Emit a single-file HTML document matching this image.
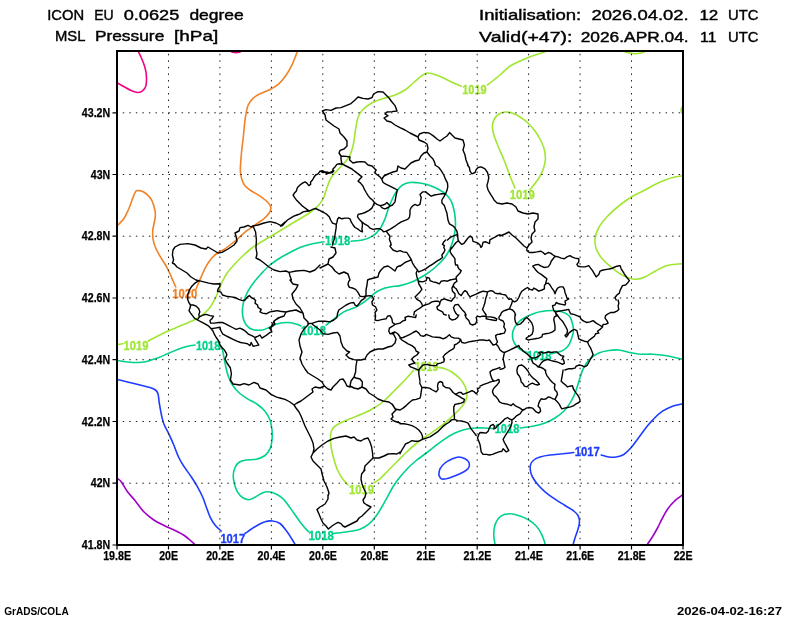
<!DOCTYPE html>
<html><head><meta charset="utf-8"><title>ICON EU MSL Pressure</title>
<style>html,body{margin:0;padding:0;background:#fff;}svg{display:block;will-change:transform;}text{font-family:"Liberation Sans",sans-serif;}</style></head><body>
<svg width="800" height="618" viewBox="0 0 800 618">
<rect x="0" y="0" width="800" height="618" fill="#fff"/>
<defs><clipPath id="mapclip"><rect x="117.0" y="51.0" width="566.0" height="494.0"/></clipPath></defs>
<g clip-path="url(#mapclip)" fill="none" stroke-width="1.6" stroke-linecap="round" stroke-linejoin="round">
<path d="M138 51C138.5 52.1 140.1 54.8 141.2 57.5C142.4 60.2 144.1 64.2 145 67.5C145.9 70.8 146.4 74.4 146.5 77.5C146.6 80.6 146.4 84 145.8 86.2C145.1 88.5 143.9 89.7 142.5 90.8C141.1 91.8 139.6 92.6 137.5 92.5C135.4 92.4 133.3 91.6 130 90C126.7 88.4 119.6 84.2 117.5 83" stroke="#f00082"/>
<path d="M230 51C230.5 51.2 232 52 233 52.3C234 52.6 235 52.6 236 52.6C237 52.6 238.1 52.5 239 52.2C239.9 51.9 241.1 51.2 241.5 51" stroke="#f00082"/>
<path d="M297.5 51C296.7 53.1 294.4 59.8 292.5 63.8C290.6 67.8 288.5 71.7 286.2 75C284 78.3 281.5 81.3 278.8 83.8C276 86.2 273.1 87.8 270 89.5C266.9 91.2 262.9 92.2 260 93.8C257.1 95.3 254.5 96.8 252.5 98.8C250.5 100.7 249.1 102.8 248 105.5C246.9 108.2 246.4 111.3 245.8 115C245.1 118.7 244.7 123.3 244.2 127.5C243.8 131.7 243.5 135.8 243 140C242.5 144.2 241.9 148.3 241.5 152.5C241.1 156.7 240.7 161.7 240.5 165C240.3 168.3 240.2 170 240.5 172.5C240.8 175 241.2 177.8 242 180C242.8 182.2 243.7 184.1 245 185.8C246.3 187.4 247.5 188.2 250 190C252.5 191.8 257.1 194.2 260 196.2C262.9 198.2 265.7 200.2 267.5 202C269.3 203.8 270.4 205.2 270.8 207C271.1 208.8 270.7 210.5 269.5 212.5C268.3 214.5 266.2 216.7 263.8 218.8C261.3 220.8 257.9 222.9 255 225C252.1 227.1 249.4 228.8 246.2 231.2C243.1 233.8 239.8 237.1 236.2 240C232.7 242.9 228.1 246.6 225 248.8C221.9 250.9 219.8 251.3 217.5 253C215.2 254.7 213.1 256.5 211.2 258.8C209.4 261 207.8 263.5 206.2 266.2C204.7 269 203.2 272.3 202 275C200.8 277.7 199.7 280.2 198.8 282.5C197.8 284.8 196.7 287.7 196.2 288.8" stroke="#f08228"/>
<path d="M117.5 225.5C118.5 224.4 121.9 221.5 123.8 218.8C125.6 216 127.3 212.1 128.8 208.8C130.2 205.4 131.6 201.2 132.5 198.8C133.4 196.3 133.8 195.3 134.4 194C135 192.7 135.4 191.6 136 191C136.6 190.4 137.3 190.7 138 190.6C138.7 190.5 139 190.4 140 190.7C141 191 142.6 191.3 144.1 192.2C145.6 193.1 147.4 194.8 148.8 196.2C150.1 197.7 151 198.5 152 200.8C153 203.1 154.3 207.5 154.9 210C155.5 212.5 155.4 214 155.3 216C155.2 218 154.8 219.7 154.4 222C154 224.3 153 227.2 152.8 230C152.6 232.8 152.6 235.8 153 238.8C153.4 241.7 154.3 244.6 155.5 247.5C156.7 250.4 158.3 253.3 160 256.2C161.7 259.2 163.8 262.1 165.5 265C167.2 267.9 168.7 271 170 273.8C171.3 276.5 172.3 279 173.2 281.2C174.2 283.5 175.3 286 175.8 287" stroke="#f08228"/>
<path d="M117.5 344.5 L123 343.8" stroke="#a0e632"/>
<path d="M148.8 341.2C149 341 146.9 341.7 150 340C153.1 338.3 162.1 333.8 167.5 331.2C172.9 328.8 177.9 327 182.5 325C187.1 323 191.5 321.4 195 319.5C198.5 317.6 201.2 315.8 203.8 313.8C206.2 311.8 208.1 310 210 307.5C211.9 305 213.5 301.7 215 298.8C216.5 295.8 217.5 292.9 218.8 290C220 287.1 221 284.2 222.5 281.2C224 278.3 225.4 275.4 227.5 272.5C229.6 269.6 232.3 266.7 235 263.8C237.7 260.8 240.8 257.7 243.8 255C246.7 252.3 249.4 249.8 252.5 247.5C255.6 245.2 258.8 243.5 262.5 241.2C266.2 239 270.8 236.2 275 233.8C279.2 231.2 283.3 228.8 287.5 226.2C291.7 223.8 296.2 221 300 218.8C303.8 216.5 306.9 214.8 310 212.5C313.1 210.2 316.5 207.5 318.8 205C321 202.5 322.5 200 323.8 197.5C325 195 325 193.3 326.2 190C327.5 186.7 329 181.2 331.2 177.5C333.5 173.8 337.1 170.8 340 167.5C342.9 164.2 346.5 161.2 348.8 157.5C351 153.8 352.1 149.6 353.2 145C354.4 140.4 354.7 134.6 355.5 130C356.3 125.4 356.8 120.8 358 117.5C359.2 114.2 360.3 112.4 362.5 110C364.7 107.6 367.9 105.1 371.2 103.2C374.6 101.4 378.5 100.1 382.5 98.8C386.5 97.4 391.2 96.5 395 95C398.8 93.5 401.9 92.1 405 90C408.1 87.9 411 84.8 413.8 82.5C416.5 80.2 419.2 77.8 421.2 76.2C423.3 74.7 424.4 73.7 426.2 73.2C428.1 72.8 429.8 73 432.5 73.8C435.2 74.5 439.2 76 442.5 77.5C445.8 79 449.4 81 452.5 82.5C455.6 84 459.8 85.6 461.2 86.2" stroke="#a0e632"/>
<path d="M487.5 85C488.5 84.2 491.7 81.7 493.8 80C495.8 78.3 497.3 77.3 500 75C502.7 72.7 506.2 68.8 510 66.2C513.8 63.8 518.3 61.9 522.5 60C526.7 58.1 531 56.4 535 55C539 53.6 544.4 52.1 546.2 51.5" stroke="#a0e632"/>
<path d="M623.8 51.5C624.6 51.8 627.1 52.6 629 53C630.9 53.4 633 53.8 635 53.8C637 53.8 639.3 53.4 641 53C642.7 52.6 644.3 51.8 645 51.5" stroke="#a0e632"/>
<path d="M682 107C681.8 107.5 681 109 681 110C681 111 681.8 112.5 682 113" stroke="#a0e632"/>
<path d="M515 188C514.2 186 511.8 180.7 510 176C508.2 171.3 506 165 504 160C502 155 499.7 150.3 498 146C496.3 141.7 494.5 137.3 493.6 134C492.7 130.7 492.3 128.5 492.4 126C492.5 123.5 493.3 121 494.4 119C495.5 117 497.2 115.2 499 114C500.8 112.8 502.8 112.2 505 112C507.2 111.8 509.5 112.2 512 113C514.5 113.8 517.3 115.3 520 117C522.7 118.7 525.5 120.7 528 123C530.5 125.3 532.8 128 535 131C537.2 134 539.4 137.8 541 141C542.6 144.2 543.7 147 544.4 150C545.1 153 545.5 156 545.4 159C545.3 162 544.7 164.8 543.6 168C542.5 171.2 540.8 175 539 178C537.2 181 534.5 184.1 533 186C531.5 187.9 530.5 189 530 189.6" stroke="#a0e632"/>
<path d="M682.5 175.8C681.2 176 677.9 176.3 675 177C672.1 177.7 668.3 178.8 665 180C661.7 181.2 658.3 182.8 655 184.5C651.7 186.2 648.8 188 645 190C641.2 192 636.7 193.8 632.5 196.2C628.3 198.8 624.2 201.7 620 205C615.8 208.3 611 212.5 607.5 216.2C604 220 600.8 223.8 598.8 227.5C596.7 231.2 595.4 235.2 595 238.8C594.6 242.3 595.2 245.6 596.2 248.8C597.3 251.9 599 254.6 601.2 257.5C603.5 260.4 606.9 263.5 610 266.2C613.1 269 616.9 271.8 620 273.8C623.1 275.7 626 277.1 628.8 278C631.5 278.9 633.5 279.4 636.2 279.2C639 279.1 641.9 278.3 645 277C648.1 275.7 651.7 273 655 271.2C658.3 269.5 661.7 267.4 665 266.2C668.3 265.1 672.1 264.7 675 264.2C677.9 263.8 681.2 263.8 682.5 263.8" stroke="#a0e632"/>
<path d="M413.8 370C412.3 371.7 408.1 376.7 405 380C401.9 383.3 398.3 386.7 395 390C391.7 393.3 388.3 397.1 385 400C381.7 402.9 378.8 405.2 375 407.5C371.2 409.8 366.7 411.9 362.5 413.8C358.3 415.6 354 417.1 350 418.8C346 420.4 341.7 422.1 338.8 423.8C335.8 425.4 333.9 426.7 332.5 428.8C331.1 430.8 330.7 433.1 330.5 436.2C330.3 439.4 330.7 443.8 331.2 447.5C331.8 451.2 332.7 455 333.8 458.8C334.8 462.5 336 466.7 337.5 470C339 473.3 340.8 476.2 342.5 478.8C344.2 481.2 347.1 484 348 485" stroke="#a0e632"/>
<path d="M373.8 483C374.8 482.3 377.7 480.7 380 478.8C382.3 476.8 384.8 474 387.5 471.2C390.2 468.5 393.1 465.6 396.2 462.5C399.4 459.4 402.7 455.8 406.2 452.5C409.8 449.2 413.5 445.6 417.5 442.5C421.5 439.4 425.8 436.7 430 433.8C434.2 430.8 438.8 427.9 442.5 425C446.2 422.1 449.6 419 452.5 416.2C455.4 413.5 457.8 411.2 460 408.8C462.2 406.2 464.3 403.8 465.5 401.2C466.7 398.8 467.1 396.2 467 393.8C466.9 391.2 466.2 388.8 465 386.2C463.8 383.8 462.1 381 460 378.8C457.9 376.5 455 374.2 452.5 372.5C450 370.8 447.3 369.6 445 368.8C442.7 367.9 439.8 367.7 438.8 367.5" stroke="#a0e632"/>
<path d="M117.5 360.5C119.2 360.8 124.2 361.7 127.5 362C130.8 362.3 134.2 362.6 137.5 362.5C140.8 362.4 144.2 362 147.5 361.2C150.8 360.5 154.2 359.2 157.5 358C160.8 356.8 164.2 355.2 167.5 353.8C170.8 352.3 174.2 350.8 177.5 349.5C180.8 348.2 184.6 347 187.5 346.2C190.4 345.5 193.8 345.2 195 345" stroke="#00d28c"/>
<path d="M220 345C220.4 345.8 221.8 347.7 222.5 350C223.2 352.3 223.6 355.6 224.2 358.8C224.9 361.9 225.5 365.6 226.2 368.8C227 371.9 227.7 374.8 228.8 377.5C229.8 380.2 230.8 382.5 232.5 385C234.2 387.5 236.2 390.2 238.8 392.5C241.2 394.8 244.4 396.8 247.5 398.8C250.6 400.8 254.6 402.4 257.5 404.5C260.4 406.6 262.9 408.7 265 411.2C267.1 413.8 268.8 416.9 270 420C271.2 423.1 271.7 426.7 272 430C272.3 433.3 272.3 436.9 272 440C271.7 443.1 271.2 446.2 270 448.8C268.8 451.3 267.3 453.8 265 455.5C262.7 457.2 259.4 458.5 256.2 459.2C253.1 460 249.2 459.5 246.2 460C243.3 460.5 240.6 461.2 238.8 462.5C236.9 463.8 235.9 465.3 235 467.5C234.1 469.7 233.3 472.7 233.2 475.5C233.2 478.3 233.8 481.5 234.5 484.2C235.2 487 236.2 489.5 237.5 491.8C238.8 494 240.6 496.2 242.5 497.5C244.4 498.8 246.7 499.8 248.8 499.8C250.8 499.7 252.9 498.3 255 497.2C257.1 496.2 259.4 494.4 261.2 493.5C263.1 492.6 264.4 491.9 266.2 491.8C268.1 491.6 270 491.6 272.5 492.5C275 493.4 278.8 495.3 281.2 497.2C283.8 499.2 285.4 501.6 287.5 504.2C289.6 506.9 291.7 510.1 293.8 513C295.8 515.9 298.1 519.2 300 521.8C301.9 524.2 303.5 526.3 305 528C306.5 529.7 308.1 531.1 308.8 531.8" stroke="#00d28c"/>
<path d="M333.8 533.5C336 533.2 343.1 532.5 347.5 531.8C351.9 531 356.5 530.5 360 529.2C363.5 528 366.2 526.2 368.8 524.2C371.2 522.3 372.9 520.2 375 517.5C377.1 514.8 379.2 511.5 381.2 508C383.3 504.5 385.4 500.5 387.5 496.8C389.6 493 391.7 488.8 393.8 485.5C395.8 482.2 397.7 479.8 400 477C402.3 474.2 404.8 471.2 407.5 468.5C410.2 465.8 413.3 462.9 416.2 460.5C419.2 458.1 421.9 456.4 425 454C428.1 451.6 431.7 448.8 435 446.2C438.3 443.7 441.7 441 445 438.8C448.3 436.5 451.7 434.5 455 433C458.3 431.5 461.7 430.3 465 429.5C468.3 428.7 471.7 428.2 475 428C478.3 427.8 481.9 427.9 485 428C488.1 428.1 492.3 428.6 493.8 428.8" stroke="#00d28c"/>
<path d="M520 428C522.1 427.7 528.3 427.1 532.5 426.2C536.7 425.4 541.2 424.4 545 423C548.8 421.6 551.9 420 555 418C558.1 416 561 414 563.8 411.2C566.5 408.5 569.2 404.8 571.2 401.2C573.3 397.7 574.8 394 576.2 390C577.7 386 578.8 381.2 580 377.5C581.2 373.8 582.1 370.6 583.8 367.5C585.4 364.4 587.5 361.2 590 358.8C592.5 356.3 595.6 354.4 598.8 353C601.9 351.6 605.4 351 608.8 350.5C612.1 350 615.2 349.7 618.8 350C622.3 350.3 626.5 351.8 630 352.5C633.5 353.2 636.2 354 640 354.2C643.8 354.5 648.3 354 652.5 354.2C656.7 354.5 661.2 355 665 355.5C668.8 356 672.1 356.9 675 357.5C677.9 358.1 681.2 359 682.5 359.2" stroke="#00d28c"/>
<path d="M301 326C300.2 325.7 298.2 324.6 296 324C293.8 323.4 290.6 322.5 287.5 322.5C284.4 322.5 280.4 323 277.5 323.8C274.6 324.5 272.5 326 270 327C267.5 328 265.4 329.6 262.5 330C259.6 330.4 255.2 330.3 252.5 329.5C249.8 328.7 247.8 327 246.2 325C244.7 323 243.6 320.2 243 317.5C242.4 314.8 242.3 311.7 242.5 308.8C242.7 305.8 243.3 302.9 244.2 300C245.2 297.1 246.4 294.2 248 291.2C249.6 288.3 251.5 285.4 253.8 282.5C256 279.6 258.5 276.7 261.2 273.8C264 270.8 266.9 267.6 270 265C273.1 262.4 276.7 260.1 280 258C283.3 255.9 286.7 254.2 290 252.5C293.3 250.8 296.2 249 300 247.5C303.8 246 308.5 244.7 312.5 243.8C316.5 242.8 321.9 242.1 323.8 241.8" stroke="#00d28c"/>
<path d="M351.2 241.2C353.1 241 359 240.8 362.5 240C366 239.2 369.6 238.1 372.5 236.2C375.4 234.4 377.9 231.7 380 228.8C382.1 225.8 383.5 222.3 385 218.8C386.5 215.2 387.4 211 388.8 207.5C390.1 204 391.5 200.4 393 197.5C394.5 194.6 395.9 192.1 397.5 190C399.1 187.9 400.4 186.2 402.5 185C404.6 183.8 407.1 182.8 410 182.5C412.9 182.2 416.7 182.5 420 183C423.3 183.5 426.9 184.4 430 185.5C433.1 186.6 436 188 438.8 189.5C441.5 191 444.2 192.5 446.2 194.5C448.3 196.5 449.9 198.2 451.2 201.2C452.6 204.2 453.8 208.5 454.5 212.5C455.2 216.5 455.6 220.8 455.5 225C455.4 229.2 454.7 233.5 453.8 237.5C452.8 241.5 451.7 245.2 450 248.8C448.3 252.3 446.2 255.6 443.8 258.8C441.2 261.9 438.1 264.8 435 267.5C431.9 270.2 428.8 272.6 425 275C421.2 277.4 416.7 280 412.5 281.8C408.3 283.5 403.3 284.8 400 285.6C396.7 286.4 395 286.1 392.5 286.5C390 286.9 387.5 287.2 385 288C382.5 288.8 379.7 290 377.5 291.2C375.3 292.5 373.6 294.2 371.9 295.6C370.2 297 369.1 298.2 367.5 299.4C365.9 300.6 364.4 301.8 362.5 303C360.6 304.2 358.3 305.8 356.2 306.9C354.2 308 352.1 308.6 350 309.4C347.9 310.2 345.8 310.8 343.8 311.9C341.7 313 339.6 314.7 337.5 316.2C335.4 317.8 333.1 319.8 331.2 321.2C329.4 322.7 327.1 324.4 326.2 325" stroke="#00d28c"/>
<path d="M526.9 352.5C526.4 352.3 525 351.9 523.8 351.2C522.5 350.6 520.8 349.8 519.4 348.8C518 347.7 516.6 346.5 515.6 345C514.6 343.5 513.6 341.9 513.1 340C512.6 338.1 512.3 335.8 512.5 333.8C512.7 331.7 513.4 329.5 514.4 327.5C515.4 325.5 517 323.6 518.8 321.9C520.5 320.2 522.6 318.8 525 317.5C527.4 316.2 530.5 315 533 314C535.5 313 536.8 312.3 540 311.8C543.2 311.2 548.8 310.5 552.5 310.5C556.2 310.5 559.7 311 562.5 312C565.3 313 567.8 314.3 569.5 316.2C571.2 318.2 571.9 321.3 572.5 323.8C573.1 326.2 573.5 328.7 573.4 331C573.3 333.3 572.6 335.4 571.9 337.5C571.2 339.6 570.3 342 569.4 343.8C568.5 345.5 567.6 346.8 566.2 348C564.9 349.2 562.9 350.5 561.2 351.2C559.6 352 557.8 352.1 556.2 352.5C554.7 352.9 552.6 353.5 551.9 353.8" stroke="#00d28c"/>
<path d="M495 544.2C494.8 542.8 493.8 538.4 493.8 535.5C493.7 532.6 494 529.2 494.5 526.8C495 524.2 496.1 522.2 497 520.5C497.9 518.8 498.7 517.8 500 516.8C501.3 515.7 503.1 514.8 505 514.2C506.9 513.8 508.8 513.5 511.2 513.8C513.8 514 517.1 515 520 516C522.9 517 526 518.3 528.8 520C531.5 521.7 534.2 523.8 536.2 526C538.3 528.2 539.9 530.9 541.2 533.5C542.6 536.1 543.9 540 544.5 541.8C545.1 543.5 544.9 543.8 545 544.2" stroke="#00d28c"/>
<path d="M117.5 379.5C119.2 379.9 123.8 381.1 127.5 382C131.2 382.9 136.2 384.1 140 385C143.8 385.9 147.4 386.7 150 387.5C152.6 388.3 154.2 389 155.5 390C156.8 391 157.4 391.7 158 393.8C158.6 395.8 158.7 399.2 159.2 402.5C159.8 405.8 160.5 410.2 161.2 413.8C162 417.3 162.5 420.4 163.8 423.8C165 427.1 167.1 430.2 168.8 433.8C170.4 437.3 172.1 441 173.8 445C175.4 449 177.1 454 178.8 457.5C180.4 461 181.7 463 183.8 466.2C185.8 469.5 189 473.3 191.2 476.8C193.5 480.2 195.6 483.4 197.5 486.8C199.4 490.1 201 493.4 202.5 496.8C204 500.1 205 503.4 206.2 506.8C207.5 510.1 208.5 513.7 210 516.8C211.5 519.8 213.1 522.6 215 525C216.9 527.4 220.2 530 221.2 531" stroke="#1e3cff"/>
<path d="M245 533.5C246.7 532.4 251.7 528.7 255 526.8C258.3 524.8 262.1 522.7 265 521.8C267.9 520.8 270 520.7 272.5 521C275 521.3 277.7 521.9 280 523.5C282.3 525.1 284.4 528.1 286.2 530.5C288.1 532.9 289.8 535.7 291.2 538C292.7 540.3 294.4 543.2 295 544.2" stroke="#1e3cff"/>
<path d="M438.8 475C439 474 439 470.8 440 468.8C441 466.8 442.9 464.7 445 463C447.1 461.3 450.2 459.8 452.5 458.8C454.8 457.8 456.7 457 458.8 457C460.8 457 463.2 457.8 465 458.8C466.8 459.8 468.8 461.3 469.2 463C469.8 464.7 469.1 467.2 468 468.8C466.9 470.3 464.9 471.2 462.5 472.5C460.1 473.8 456.5 475.2 453.8 476.2C451 477.3 448.3 478.3 446.2 478.8C444.2 479.2 442.5 479.4 441.2 478.8C440 478.1 439.2 475.6 438.8 475" stroke="#1e3cff"/>
<path d="M682.5 403.8C680.8 404.2 675.8 405 672.5 406.2C669.2 407.5 665.6 409.2 662.5 411.2C659.4 413.3 656.5 416 653.8 418.8C651 421.5 648.8 424.4 646.2 427.5C643.8 430.6 641.2 434.2 638.8 437.5C636.2 440.8 633.8 444.7 631.2 447.5C628.8 450.3 626.2 452.9 623.8 454.5C621.2 456.1 618.8 456.6 616.2 457C613.8 457.4 611.2 457.3 608.8 457C606.2 456.7 602.5 455.3 601.2 455" stroke="#1e3cff"/>
<path d="M573.8 452.5C571.9 452.7 566.5 453.3 562.5 453.8C558.5 454.2 553.8 454.5 550 455C546.2 455.5 542.7 456.2 540 457C537.3 457.8 535.3 458.7 533.8 460C532.2 461.3 531 463.1 530.5 465C530 466.9 530.2 469.2 530.5 471.2C530.8 473.2 531.3 474.8 532.5 477C533.7 479.2 535.4 481.8 537.5 484.2C539.6 486.7 542.1 489.2 545 491.8C547.9 494.2 551.7 497 555 499.2C558.3 501.5 561.9 503.5 565 505.5C568.1 507.5 571.6 509.3 573.8 511C575.9 512.7 577 513.7 578 515.5C579 517.3 579.5 519.5 579.5 521.8C579.5 524 578.8 526.5 578 529.2C577.2 532 575.8 535.5 575 538C574.2 540.5 573.5 543.2 573.2 544.2" stroke="#1e3cff"/>
<path d="M117.5 478.5C118.1 479 119.6 479.5 121.2 481.8C122.9 484 125.2 488.6 127.5 491.8C129.8 494.9 132.3 497.2 135 500.5C137.7 503.8 140.6 508.5 143.8 511.8C146.9 515 150.2 517.6 153.8 520C157.3 522.4 161.5 524.2 165 526C168.5 527.8 171.7 528.8 175 530.5C178.3 532.2 182.3 534.2 185 536C187.7 537.8 189.7 539.9 191.2 541.2C192.8 542.6 194 543.8 194.5 544.2" stroke="#a000c8"/>
<path d="M647.5 544.2C648.3 543 650.8 539.5 652.5 536.8C654.2 534 655.8 531.1 657.5 528C659.2 524.9 660.8 521.1 662.5 518C664.2 514.9 665.6 512 667.5 509.2C669.4 506.5 671.2 504.1 673.8 501.8C676.2 499.4 681 496.1 682.5 495" stroke="#a000c8"/>
</g>
<g font-weight="bold" font-size="12.6px" stroke-width="0.3">
<text x="172.2" y="298.1" fill="#f08228" stroke="#f08228" textLength="25.1" lengthAdjust="spacingAndGlyphs">1020</text>
<text x="123.5" y="349.6" fill="#a0e632" stroke="#a0e632" textLength="24.9" lengthAdjust="spacingAndGlyphs">1019</text>
<text x="195.9" y="349.6" fill="#00d28c" stroke="#00d28c" textLength="24.4" lengthAdjust="spacingAndGlyphs">1018</text>
<text x="220.4" y="543.2" fill="#1e3cff" stroke="#1e3cff" textLength="24.9" lengthAdjust="spacingAndGlyphs">1017</text>
<text x="462.2" y="94" fill="#a0e632" stroke="#a0e632" textLength="24.4" lengthAdjust="spacingAndGlyphs">1019</text>
<text x="509.7" y="199.2" fill="#a0e632" stroke="#a0e632" textLength="25" lengthAdjust="spacingAndGlyphs">1019</text>
<text x="325" y="245.4" fill="#00d28c" stroke="#00d28c" textLength="25.3" lengthAdjust="spacingAndGlyphs">1018</text>
<text x="300.9" y="335" fill="#00d28c" stroke="#00d28c" textLength="25.1" lengthAdjust="spacingAndGlyphs">1018</text>
<text x="414.7" y="370.9" fill="#a0e632" stroke="#a0e632" textLength="23.6" lengthAdjust="spacingAndGlyphs">1019</text>
<text x="349" y="494.1" fill="#a0e632" stroke="#a0e632" textLength="25" lengthAdjust="spacingAndGlyphs">1019</text>
<text x="308.4" y="539.6" fill="#00d28c" stroke="#00d28c" textLength="25.6" lengthAdjust="spacingAndGlyphs">1018</text>
<text x="494.7" y="433.1" fill="#00d28c" stroke="#00d28c" textLength="24.6" lengthAdjust="spacingAndGlyphs">1018</text>
<text x="526.7" y="360.1" fill="#00d28c" stroke="#00d28c" textLength="24.9" lengthAdjust="spacingAndGlyphs">1018</text>
<text x="574.7" y="456.1" fill="#1e3cff" stroke="#1e3cff" textLength="25.1" lengthAdjust="spacingAndGlyphs">1017</text>
</g>
<g stroke="#222" stroke-width="1" stroke-dasharray="1.5 5.04" fill="none">
<path d="M168.5 545.8 V51"/>
<path d="M219.9 545.8 V51"/>
<path d="M271.4 545.8 V51"/>
<path d="M322.8 545.8 V51"/>
<path d="M374.3 545.8 V51"/>
<path d="M425.7 545.8 V51"/>
<path d="M477.2 545.8 V51"/>
<path d="M528.6 545.8 V51"/>
<path d="M580.1 545.8 V51"/>
<path d="M631.5 545.8 V51"/>
<path d="M116.2 483.2 H683"/>
<path d="M116.2 421.5 H683"/>
<path d="M116.2 359.7 H683"/>
<path d="M116.2 298 H683"/>
<path d="M116.2 236.2 H683"/>
<path d="M116.2 174.5 H683"/>
<path d="M116.2 112.8 H683"/>
</g>
<g clip-path="url(#mapclip)" fill="none" stroke="#000" stroke-width="1.4" stroke-linecap="round" stroke-linejoin="round">
<path d="M199 281L196 280L191 277L187 273L182 270L177 267L174.4 264L172.4 263L173.6 260L172.4 255L173 250L175 247L180 244.4L188 243.6L195 245L201 248L206 249L208 247L213 250L218 253L222 252.4L228 249L234 245L237 241L236 236L235 233L239 231L240 227.6L244 227L248 225.4L251 227L253 226L258 225L264 223L270 221.6L276 223L281 225.6L285 222M253 226L255.6 232L256.4 240L256 248L257 254L256 258L260 260L264 263L269 267L274 270L280 271.6L286 271L289 272.4L296 271L304 270.4L310 272L315 270L320 265M289 272.4L290 276L291.4 280M198.8 280.6L195 283.1L191.9 286.2L189.4 290L187.8 294.4L187.5 298.8L188.8 302.5L190.6 305L190 308.1L189 310.6L190.6 313.1L192.5 315.6L194.4 318.1L197.5 320L201.2 321.9L205 323.8L208.8 326.2L211.2 328.8L213.1 331.2L214.4 334.4L216.2 337.5L218.8 341.2L220 345L221.9 347.5L224.4 350L226.2 353.1L226.9 355M190.6 305L193.1 305L196.2 306.2L198.8 308.8L199.8 311.9L198.8 314.4L199.4 316.9L197.5 320M199.4 316.9L203.1 315L206.2 314.4L210 315.6L213.5 316.2L211.9 318.8L210 320.6L210.6 323.1L214.4 323.1L218.8 322.5L222.5 322.5L225.6 323.8L228.8 325.6L232.5 327.5L236.2 329.4L240 328.1L243.8 330L246.2 331.9L248.8 334.4L251.9 335.6L255 337.5L258.1 336.2L260 335L261.9 338.1L265 336.2L267.5 334.4L270 332.5L271.9 331.9L270.6 329.4L269.4 328.1L272.5 326.2L275 323.8L273.8 321.9L275.6 319.8L280 317.5M211.2 328.8L215 328.1L220 327.2L220.6 330L222.5 333.8L225.6 335.6L229.4 337.5L233.1 339.4L236.9 341.2L240.6 342.5L244.4 343.1L247.5 343.8L250 345.6L251.2 342.5L253.1 346.2L256.2 345.6L258.8 345L256.9 341.9L255 338.8L255 337.5M198.8 280.6L203.8 281.9L208.8 283.1L213.8 284L220 283.8L220 286.2L218.1 288.8L217.5 291.2L220.6 291.9L222.5 295L226.2 296.2L231.2 296.9L235 297.5L238.8 299.4L242.5 300.6L245 300L247.5 296.9L249.4 295.6L251.2 297.5L253.8 298.8L255.6 300.6L255 303.1L257.5 305L258.1 307.5L261.2 309.4L260 311.9L262.5 313.1L266.2 313.8L270 311.9L273.8 311.2L277.5 310.6L280 311.2M226.8 355L225 359L227 363L230.4 368L231.4 374L230.4 380L233 384L240 385L244 383.6L249 385L254 382.4L258 384L260 388L266 390L271 394.4L276 396.8L280 398.2M290 280L293 284L298 285L296 289L292 294L293 299L296 304L300 308L303 313L304 318L308 322L308 325M280 311.2L286 312L290 311L296 310L300 312L303 313M286 312L284 316L278 318L274 321L272 325L271 328M322.4 111L326 109.6L331 110.4L336 108L341 107.6L346 105.6L351 103.6L355 100L358 97L363 98.4L368 99L372 97.6L373.6 94L378 91.6L383 92L386 95L389 98L392 102L395 105.6L397 111L392 111.6L387 112L385 114L388 115.6L384 118L387 121L391 122L395 125L400 127.6L405 130L410 133L414 135L418 137L419.4 134L424 132.4L429 133L433 135.6L437 139L440 141L444 138L447 136L449.6 132.6L452 135L455 138L459 139L463 140L464.4 145L463 150L465 155L466 160L468 165M322.4 111L325 115L326 120L330 123L334 126L339 129L340 133L344 137L347 141L347 146L344 149L340 150.4L339 153L341 156L346 156.4L350 157L349.6 160L353 163L357 162L361 161.6L365 162L368 165L372 166L375 169L376 170.4M341 156L341 159L341.6 163M341.6 163L344 165L348 167L352 169L353 170M418 137L419 140L424 142L427 144L428 148L427 152M427 152L424 153L421 156L419 160L415 161L411 163L408 166L405 169L401 168L398 166L397 171L393 172L388 174L384 176L382 179M427 152L430 156L433 159L434.6 162.4L435.4 165.2M494 200L497 203L502 204L507 203L512 204L516 207L518 211L523 213L528 214L533 213L538 214L538 219L535 222L534 227L535 231L532 234L531 238L532 242L529 245L527 248L526.8 250M500 236L505 234L509 232L512 235L516 238L520 242L524 246L527 248M526.9 250.6L529.4 252.5L533.1 252.5L536.9 251.9L540.6 251.2L543.1 252.5L545 254.4L548.1 252.5L550.6 253.1L553.1 255L555 256.2L558.1 256.9L561.2 258.1L564.4 258.8L566.9 256.9L570 255.6L571.9 256.9L575 258.1L578.8 258.8M555 256.2L553.1 258.8L551.2 261.2L550 264.4L548.1 266.9L544.4 267.5L541.2 266.2L538.1 264.4L535 265L532.8 266.2L534.4 268.1L536.2 270.6L538.1 272.5L541.2 274.4L544.4 276.9L546.9 278.8L546.2 281.2L545.6 283.8M545.6 283.8L544.4 285.6L544.4 288.8L541.9 290L538.8 291.2L536.2 289.4L533.8 288.1L532.5 290L530 289.4L527.5 287.5L524.4 289.4L521.9 291.2L520 294.4L518.8 297.5L516.9 300.6L514.4 301.9L512.5 300.6L511.2 298.8L508.8 299.4L506.9 296.9L505.6 295L502.5 294.4L500 293.8M512.5 300.6L511.9 303.1L510.6 306.2L509.4 308.8M509.4 308.8L506.2 310L503.1 311.2L501.2 313.1L500.6 315M509.4 308.8L512.5 310L514.4 311.9L515.6 315M545.6 283.8L548.1 283.1L550 285L551.9 288.1L553.8 290.6L555 293.8L556.2 290.6L557.5 288.1L560 286.9L563.1 286.9L564.4 289.4L565 292.5L566.2 295.6L566.9 298.1L568.8 298.8L566.9 300L565 301.2L565.6 303.8L565 305L561.9 304.4L558.8 303.8L556.2 302.5L555 305L552.5 305.6L553.1 308.1L553.8 310.6L555.6 312.5L556.2 315M578.8 258.8L578.8 261.9L576.9 264.4L578.1 266.2L581.2 266.9L585 266.9L588.8 265.6L590.6 268.1L592.5 270.6L594.4 273.8L596.2 276.9L598.8 274.4L600 271.2L603.1 270L606.9 269.4L610.6 268.8L613.8 267.5L616.9 266.2L620 265.6L621.2 268.8L623.1 271.9L625 275L626.9 277.5L629.4 280.6L627.5 283.1L625.6 285L622.5 285.6L621.2 288.1L620 290.6L619.4 293.1L616.9 295L615 297.5L616.2 300M400 250.6L403.1 251.9L406.9 252.5L408.8 255.6L411.2 259.4L412.5 263.1L414.4 266.2L416.9 269.4L418.8 271.9M411.2 260L408.1 261.2L405 262.5L402.5 264.4L400 266.2M418.8 271.9L421.9 270.6L425.6 268.8L429.4 266.2L433.1 263.8L436.9 261.2L440 259.4L442.5 257.5L441.9 255L443.8 252.5L445 250L443.8 247.5L444.4 245.6L442.5 244.4L443.8 241.9L445.6 240M417.5 270L416.2 273.1L416.9 276.9L418.1 280.6L418.8 283.8L420.6 286.9L421.9 289.4L420 291.9L417.5 294.4L415 296.9L416.9 299.4L420 301.2L421.9 303.8L422.5 306.2L420 308.1L416.9 310L414.4 311.9L413.8 315M418.8 281.2L422.5 281.9L426.2 280.6L426.9 277.5L429.4 278.1L430 280.6L433.1 281.9L436.2 282.5L439.4 283.8L441.2 281.2L444.4 280.6L447.5 281.2L450 280L453.1 279.4L456.2 278.8M451.2 247.5L450 251.2L451.2 253.8L453.1 256.2L455 258.8L455 261.9L455.6 265L457.5 265L458.1 267.5L459.4 269.4L461.2 270.6L460 273.1L458.1 275L456.2 276.9L456.2 278.8L456.9 281.2L454.4 283.1L453.1 285.6L454.4 287.5L456.2 288.8L457.5 291.2L458.8 293.8L461.2 295.6L463.1 292.5L465 290.6L466.9 291.9L468.1 294.4L470 296.9L472.5 295.6L475.6 294.4L479.4 292.5L483.1 291.2L487.5 291.9L490.6 290.6L493.1 291.2L495 293.1L498.1 293.8L500 293.1M453.1 285.6L451.9 288.1L452.5 291.2L455 293.8L455 296.9L453.1 298.8L451.2 301.2L447.5 300L444.4 298.8L441.2 300L440 302.5L438.1 301.2L435 301.2L431.9 301.9L428.8 303.8L425 305L422.5 306.2M440 302.5L439.4 305L436.9 306.9L437.5 309.4L440 310.6L442.5 311.9L443.8 314.4L446.2 315M487.5 291.9L486.9 295L485.6 298.8L485 302.5L483.8 306.2L482.5 309.4L484.4 312.5L486.2 315M455 305L458.1 304.4L460 306.9L461.9 309.4L464.4 311.9L466.2 315M455 305L453.5 307.5L454.4 310.6L456.2 313.8L457.5 315M400 323.1L402.5 321.2L405.6 320L405 317.5L408.1 316.2L411.9 316.9L415.6 317.5L416.2 315M400 338.1L403.1 337.5L406.2 336.2L410 334.4L413.1 332.5L416.2 331L418.8 333.1L420.6 335.6L423.8 336.2L426.2 334.4L429.4 335.6L432.5 336.9L436.2 337.2L440 337.5L443.1 338.8L446.2 337.5L449.4 334.8L451.2 336.9L454.4 338.1L458.1 338.1L460.6 339.4L461.9 342.5L465 343.1L468.8 341.9L472.5 341.2L476.2 340.6L480 340L483.8 340L486.9 340.6L489.4 340L491.2 342.5L493.1 345L495.6 344.4L497.5 341.9L496.2 338.8L495.6 335.6L497.5 334.4L500 334.4M400 338.1L401.9 340L405 341.9L408.1 343.8L411.9 345.6L415 348.1L416.2 351.2L418.8 352.5L416.9 355L413.8 356.9L411.9 358.8L413.1 361.2L415 363.1L411.9 363.8L408.8 365L410.6 366.9L413.8 368.1L416.9 369.4L418.8 370M418.8 370L418.8 373.8L419.4 377.5L420 381.2M418.8 370L420.6 367.5L423.1 365L426.2 364.4L429.4 365L432.5 365.6L436.2 365.6L437.5 363.8L440.6 363.1L443.8 361.9L444.4 359.4L443.1 356.9L445 354.4L447.5 352.5L450 350.6L452.5 349.4L454.4 347.5L454.4 345L456.9 343.8L459.4 341.9L460.6 339.4M448.8 315L449.4 318.1L451.9 320L455 319.4L457.5 317.5L458.8 315M496 344.1L498.1 346.2L500 350M465 315L466.2 318.1L468.8 320.6L470 323.8L472.5 325L475.6 323.8L476.9 320.6L476.2 317.5L477.5 316.2L480 316.9L482.5 316.2L486.2 316.2M486.2 316.9L490 316.9L493.8 317.5L496.9 318.8L496.2 320.6L492.5 320L488.8 319.4L486.2 318.8L486.2 316.9M500 367.5L496.2 368.8L492.5 370L490 371.9L490.6 375L491.9 378.8L493.8 381.2M500.6 315L499 316.9L499 319L500.6 320L503.1 321L504.4 323.8L503.8 326.9L505.6 330L504.4 333.1L501.2 333.8L500 333.8M500 350L502.5 351.9L504.4 352.5M504.4 352.5L507.5 351.2L511.2 349.4L515 347.5L518.8 345.6L520 348.1L521.9 349.4L523.1 351.2L525 352.5L526.9 353.8L528.8 355.6L531.2 357.5L533.1 358.1L536.2 357.5L538.8 356.2L540.6 354.4L538.8 352.5L541.2 351.9L543.1 353.1L546.2 352.5L548.8 351.9L551.2 352.5L554.4 351.9L556.9 351.9L558.8 353.8L561.2 355.6L563.8 356.2L562.5 358.1L563.8 360.6L564.4 363.1L562.5 364.4L560 363.1L556.9 361.9L553.8 361.2L551.2 360.6L548.1 359.4L545.6 360L543.1 361.2L541.2 363.1L540 365L538.1 366.9M504.4 352.5L503.8 355.6L503.1 358.8L503.8 361.9L504.4 365L505 367.5L502.5 368.8L500 369.4M531.2 357.5L531.9 360.6L533.1 363.1L536.2 365L538.1 366.9M538.1 366.9L541.2 367.5L543.8 368.8L545.6 371.2M515 315L514.8 318.8L515.6 322.5L517.5 324.8L520.6 323.8L523.1 321.2L525 318.8L526.9 317.5M526.9 317.5L529.4 320L531.9 323.1L533.1 326.9L533.1 331.2L531.9 334.4L529.4 336.2L526.9 337.5L526 338.8L528.1 340L531.2 339.4L535 338.8L538.8 338.1L541.9 336.9L542.5 334.4L545.6 333.8L549.4 333.1L552.5 331.9L555 330L555 326.2L554.4 322.5L553.8 319.4L554.4 316.9L556.9 315.6L557.5 315M518.8 365.6L521.9 365L524.4 366.9L526.2 368.8L528.1 371.2L529.4 373.8L531.2 376.2L533.1 378.1L535.6 380L538.1 382.5L539.4 384.4L537.5 385L535 384.4L532.5 383.1L530.6 383.8L528.8 385L526.9 386.9L524.4 386.2L523.1 383.8L521.2 381.9L520.6 378.8L519.4 376.2L517.5 373.8L516.9 370.6L517.5 367.5L518.8 365.6M618.1 300L618.8 303.1L618.1 306.2L618.8 309.4L616.9 311.2L613.8 312.5L610.6 312.5L608.1 313.8L605.6 315.6L605 318.1L606.9 320.6L608.1 323.1L605.6 324.4L603.1 324.4L602.5 326.9M602.5 326.9L599.4 325L596.2 323.1L593.1 320.6L590 321.9L586.9 322.5L583.8 321.2L581.2 319.4L580 316.9L576.9 315.6L573.8 314.4L570.6 313.8L569.4 311.2L568.8 309.4L565.6 310L561.9 310.6L558.8 311.2L555.6 311.9M602.5 326.9L600 329.4L597.5 331.2L598.8 333.1L595.6 333.8L594.4 336.2L591.9 338.1L589.4 340L587.5 341.9M587.5 341.9L584.4 341.2L581.2 340L578.8 338.8L578.1 335.6L577.5 333.1L576.9 330.6L574.4 329.4L571.9 330.6L568.8 333.1L567.5 335.6L566.2 336.9L565 335.6L566.9 333.8L567.5 330.6L566.2 327.5L564.4 324.4L562.5 321.2L560 318.8L558.1 316.2L556.2 313.8L555.6 311.9M587.5 341.9L588.8 345L590.6 348.1L591.9 351.2L593.1 354.4L591.9 356.9L590 360L588.8 362.5L586.9 365.6L584.4 366.9L581.9 365.6L579.4 365L576.2 366.2L575 368.1L571.9 368.8L568.1 368.8L565 370M419.8 382.5L420 383.8L421.9 387.5L421.2 391.9L420.6 396.2L420 398.1L416.2 399.4L412.5 400L409.4 402.5L406.2 405.6L403.1 408.1L400 410M421.9 387.5L425.6 387.5L429.4 388.1L432.5 390L436.2 391.9L438.1 389.4L437.5 386.2L438.1 383.1L440 381.5L442.5 382.5L443.1 385.6L445.6 387.5L449.4 388.1L451.2 390L453.1 392.5L455.6 394.4L458.8 396.2L461.9 398.1L464.4 399.4L463.8 401.9L461.2 403.1L458.1 403.8L455 404.4L453.8 406.9L453.8 411.2L454.4 415.6L454.4 419.4M455.6 394.4L458.8 392.5L461.2 392.5L463.1 394.4L466.2 393.1L469.4 391.9L471.9 390.6L474.4 391.9L476.2 393.8L478.1 391.2L477.5 388.8L480 387.5M454.4 419.4L451.2 420L448.8 422.5L445.6 424.4L442.5 426.9L440 429.4L437.5 431.9L433.8 434.4L430 436.9L426.2 438.1L422.5 439.4L418.8 441.2L415 441.2L411.9 440.6L408.8 442.5L405.6 443.8L403.8 446.9L401.9 450L400.6 452.5L400 453.8M454.4 419.4L457.5 420.6L461.2 421L465 421.9L468.1 423.1L469.4 425.6L470.6 428.1L472.5 430.6L474.4 433.1L476.2 435.6M400 423.8L403.8 423.8L407.5 424.4L411.9 425.6L415.6 427.5L418.8 430L421.2 433.1L422.5 436.2L422.5 439.4M480 386.2L483.8 384.4L487.5 383.1L490.6 381.9L493.1 381.2M493.1 381.2L496.2 380.6L498.8 379.4L499.4 381.9L497.5 384.4L495 386.9L493.1 389.4L492.5 391.9L493.8 395L496.2 396.9L498.1 399.4L499.4 401.9L501.9 403.1L505 403.8L508.1 404.4L511.2 405.6L513.1 403.8L515 405.6L517.5 406.9L520 408.1L522.5 410L523.8 410M523.8 410L526.2 408.1L529.4 407.5L532.5 408.1L534.4 410L536.2 411.9L538.8 413.1L540.6 411.2L540 408.1L538.1 406.2L538.8 403.1L540 400.6L541.2 398.8L543.8 399.4L546.2 398.8L548.1 396.9L550.6 397.5L553.1 398.8L555 399.4M555 399.4L556.2 396.9L557.5 394.4L556.9 391.9L555 390L554.4 387.5L555 384.4L552.5 382.5L550.6 380.6L548.8 378.1L546.9 375.6L545.6 372.5L545.6 370M555 399.4L557.5 401.9L559.4 404.4L560.6 406.9L561.9 408.8L564.4 408.1L567.5 407.5L570.6 406.9L573.8 405.6L576.2 403.8L578.8 402.5L580 401.2M563.1 370L562.5 373.8L561.9 377.5L561.2 381.2L563.1 383.1L565.6 385L567.5 386.9L570 386.2L572.5 385.6L573.1 388.1L574.4 390.6L576.2 393.1L578.1 395.6L579.4 398.1L580 400M477.5 438.1L478.8 434.4L480 432.5L483.1 432.8L486.2 433.1L488.1 431.2L489.4 428.1L490.6 425.6L493.1 424.4L494.4 426.2L493.8 428.8L495.6 428.1L497.5 425.6L500 423.8L502.5 421.2L505 418.8L507.5 417.5L509.4 418.8L511.9 420M511.9 420L514.4 418.1L516.9 415.6L520 413.8L521.9 411.2L523.1 409.4M511.9 420L511.9 423.1L510.6 426.9L508.8 430L506.9 433.1L505 436.2L503.1 439.4L504.4 442.5L506.2 445.6L507.5 448.1L508.8 450.6L506.2 451.9L504.4 450L503.1 448.8L501.9 451.2L498.8 451.9L495.6 453.1L492.5 454.4L489.4 455L486.2 454.4L483.1 454.4L481.2 451.9L480.6 448.1L480 444.4L478.8 441.2L477.5 438.1M353.1 170L355.6 171.9L358.8 174.4L361.9 176.9L360 178.8L358.1 181.2L360.6 183.1L363.1 186.2L364.4 189.4L366.2 192.5L368.1 195.6L370 198.1L372.5 200L374.4 202.5M374.4 202.5L376.9 204.4L380 205.6L383.1 205L385.6 203.8L386.9 202.5L388.8 204.4L390 206.2L392.5 205L395 201.9L395.6 198.1L396.2 195L396.9 191.9L397.5 190M380.6 206.2L382.5 208.1L385 208.8L388.1 207.5L390 206.2M374.4 202.5L373.1 205.6L371.9 208.1L368.8 210.6L365 212.5L361.2 213.8L358.1 214.4L357.5 216.9L359.4 219.4L361.9 221.9L364.4 223.8L367.5 225.6L370 228.1L373.1 229.4L376.9 228.8L380 228.8L381.9 230L383.8 231.9L386.2 231.2M361.9 221.9L362.5 225L361.9 228.8L362.5 231.9L360.6 231.2L357.5 228.8L355 227.5L353.1 225L351.2 221.9L350 218.8L348.1 218.1L345 218.1L341.9 218.8L338.8 217.5L337.5 219.4L336.9 222.5L336.2 224.4M336.2 224.4L332.5 223.1L330.6 220L329.4 216.9L326.9 214.4L323.8 212.5L320 210.6M336.2 224.4L336.2 227.5L335.6 231.2L335 235L334.4 238.8L333.1 242.5L332.5 245M397.5 190L393.8 188.1L390 186.2L386.2 184.4L383.1 182.5L381.9 179.4L380 176.9L377.5 175L375 173.1L375.6 170.6L376.2 170M420 204.4L417.5 205.6L415 204.4L413.1 205.6L411.2 207.5L410 210L410 213.8L409.4 217.5L407.5 219.4L404.4 220.6L401.2 221.9L398.1 223.8L395 226.2L391.9 228.1L388.8 230L386.2 231.2M386.2 231.2L388.1 233.8L390 236.2L389.4 239.4L390.6 242.5L391.2 245M320 171.2L323.1 172.5L326.9 171.9L330 173.1L332.5 172.5L333.8 170.6M435 165L438.8 167.5L441.2 170.6L443.8 175L445.6 179.4L447.5 183.1L447.8 186.9L446.9 190.6L445.6 193.8M445.6 193.8L441.9 193.8L438.1 194.4L434.4 195L431.2 196.2L428.8 194.4L425.6 191.9L422.5 191.9L420 194.4L421.2 197.5L420.6 201.2L420 204M445.6 193.8L443.8 196.9L441.9 200L441.9 203.1L444.4 205.6L445.6 209.4L446.9 213.1L447.5 216.9L448.1 220.6L449.4 223.8L452.5 225.6L455 228.1L456.9 231.2L457.5 234.4M457.5 234.4L454.4 235.6L451.2 236.9L448.8 238.8L447.5 240M467.5 165L469.4 167.5L470 171.2L471.9 173.8L475 172.5L476.2 169.4L478.1 167.5L481.2 166.9L485 168.8L487.5 172.5L488.8 177.5L488.1 181.2L486.9 185.6L488.1 190L490.6 194.4L493.1 198.1L494 200M331 247L335 248L336 253L333 257L329 259L328 264L324 266L320 268M328 264L332 267L335 271L339 274L344 272L348 274L350 280L348.8 281.2L348 284.4L349.4 287.4L352.4 288L355.6 289.4L358 292.4L360 296.2L363 296.6L366 296M390.6 245L390 246.4L393 250L397 251.6L400 250.6M400 265.6L397 267L395 271L391 268L388 266L384 267L381 270L379 273L378 277L374 278L370 279L367.6 280L367 285L366 290L366 295.6M308 325L304 329L301 334L299 340L300 346L302 352L300 358L302 364L305 369L308 373L313 376L318 379L322 382L324.4 386M312 324L316 327L320 330L323 333.6L328 334.4L333 333L337.6 332.4L340 336L341 342L343 347L347 351L349.6 352L346 355L349 358L354 359.6L357 360M357 360L361 360L365 359L367 355L370 352L374 350L378 349L383 349L388 347L392 346L395 343L396 339L394 335L392 333M357 360L356 366L355.6 372L354 377M354 377L351 381L350 386L354 388L358 389L362 387L362.4 382L360 379L356 378L354 377M324.4 386L328 389L331 390L333 387L337 383L340 379.6L343 379L345 382L347 386L350 387M362 387L366 389L369 393L374 396L378 399L383 401L389 402L393 405L395 409L400 410M324.4 386L320 388L315 387L312 389L313 392L309 395L305 398L301 401L297 403L294 405M294 405L296 408L299 412L301 416L303 421L305 426L307 430M294 405L290 402L285 399.4L280 398M392 333L395 332L398 334L400 337M305 426L308 432L311 438L313 443L314 449L313 453L311 457L313 461L317 465L321 469L322.4 475L324 481L327 487L329 493L328 496M313 453L317 449L322 445L328 441L334 438.4L340 437L346 436L351 438L354 437L357 440L361 441L364 439L368 438L370 442L371.6 447L372.4 452L373 458M373 458L369 462L365 466L364 471M373 458L379 458L384 456L388 454L393 453.6L397 454L400 452M392 404L394 407L396 410L392 414L393 417L391 419L394 421L400 423M328 495L328 499L325 504L320 507L317 509.6L319 514L321 519L323 523L326 526L328.4 529M328.4 529L332 526L335 524L338 522.4L341 523.6L343 526L345 527L349 525L353 523L357 521L359 518L362 516L365 513L368 510L371 507M371 507L367 505L364 503L363 500L365 497L366 493L364 489L362 484L361 479L361.6 474L364 471L365 470M341.9 164.4L339.4 163.8L336.9 164.4L335 166.9L333.1 168.8L332.5 171.2L330 172.5L326.9 173.8L324.4 171.9L322.5 170.6L320 171.2L318.1 173.8L315.6 175L313.8 177.5L312.5 180L310.6 181.9L310.6 184.4L308.8 185.6L306.9 183.1L305 181.9L302.5 183.1L300 185L297.5 187.5L296.2 191.2L294.4 193.1L293.1 195.2L295 198.1L296.9 200.6L299.4 203.1L301.9 205.6L304.4 207.5L306.9 209.4L309.4 211M309.4 211L306.2 211.2L303.1 211.9L300 213.8L296.9 215L293.8 216.2L290.6 218.1L287.5 220L285 222.5L282.5 225.6L280.6 226.2M309.4 211L312.5 209.4L315.6 208.5L318.8 210L320 210.4M457.6 234.3L458 239.5L459.1 241.8L461.8 244.4L464 243.3L466.3 240.3L468.5 237.3L470.4 236.1L472.3 237.6L473 241.4L475.3 242.1L477.5 242.9L479.8 244.8L480.9 247.4L482 246.3L483.1 242.1L485.8 241.8L488 242.9L489.5 243.6L489.9 239.9L492.5 238.4L495.5 236.9L497.8 235.4L500 234.6M458 241L456.1 242.5L454.3 244.8L452.4 247.4L451.3 248.9M308.1 323.8L312.5 323.1L318.8 321.2L325 321.2L330 321.9L333.8 320L336.9 317.5L337.5 313.8L338.8 310L342.5 307.5L346.2 305L350 303.1L353.8 302.5L355 305L356.9 306.2L359.4 303.1L361.2 300.6L363.8 298.8L365.6 296.2M365.6 296.2L370 295.6L371.9 296.2L373.8 298.8L371.9 301.9L372.5 305L375.6 306.9L376.9 310L375 312.5L375.6 316.2L375 320L377.5 320.6L382.5 319.4L386.2 318.8L387.5 316.2L390 315.6L391.9 318.8L392.5 322.5L395 324.4L400 323.1M395 324.4L392.5 326.2L389.4 328.1L388.8 331.2L390 333.8L393.8 333.8"/>
</g>
<rect x="117.0" y="51.0" width="566.0" height="494.0" fill="none" stroke="#000" stroke-width="2"/>
<path d="M117 545 V549.5M168.5 545 V549.5M219.9 545 V549.5M271.4 545 V549.5M322.8 545 V549.5M374.3 545 V549.5M425.7 545 V549.5M477.2 545 V549.5M528.6 545 V549.5M580.1 545 V549.5M631.5 545 V549.5M683 545 V549.5M117 545 H112.5M117 483.2 H112.5M117 421.5 H112.5M117 359.7 H112.5M117 298 H112.5M117 236.2 H112.5M117 174.5 H112.5M117 112.8 H112.5" stroke="#000" stroke-width="1.2" fill="none"/>
<g font-weight="bold" font-size="12.4px" fill="#000" stroke="#000" stroke-width="0.25">
<text x="103.2" y="559.7" textLength="27.9" lengthAdjust="spacingAndGlyphs">19.8E</text>
<text x="159.2" y="559.7" textLength="18.9" lengthAdjust="spacingAndGlyphs">20E</text>
<text x="206.2" y="559.7" textLength="27.9" lengthAdjust="spacingAndGlyphs">20.2E</text>
<text x="257.6" y="559.7" textLength="27.9" lengthAdjust="spacingAndGlyphs">20.4E</text>
<text x="309.1" y="559.7" textLength="27.9" lengthAdjust="spacingAndGlyphs">20.6E</text>
<text x="360.5" y="559.7" textLength="27.9" lengthAdjust="spacingAndGlyphs">20.8E</text>
<text x="416.5" y="559.7" textLength="18.9" lengthAdjust="spacingAndGlyphs">21E</text>
<text x="463.4" y="559.7" textLength="27.9" lengthAdjust="spacingAndGlyphs">21.2E</text>
<text x="514.9" y="559.7" textLength="27.9" lengthAdjust="spacingAndGlyphs">21.4E</text>
<text x="566.3" y="559.7" textLength="27.9" lengthAdjust="spacingAndGlyphs">21.6E</text>
<text x="617.8" y="559.7" textLength="27.9" lengthAdjust="spacingAndGlyphs">21.8E</text>
<text x="673.7" y="559.7" textLength="18.9" lengthAdjust="spacingAndGlyphs">22E</text>
<text x="81.8" y="549.2" textLength="28.4" lengthAdjust="spacingAndGlyphs">41.8N</text>
<text x="90.8" y="487.4" textLength="19.4" lengthAdjust="spacingAndGlyphs">42N</text>
<text x="81.8" y="425.7" textLength="28.4" lengthAdjust="spacingAndGlyphs">42.2N</text>
<text x="81.8" y="363.9" textLength="28.4" lengthAdjust="spacingAndGlyphs">42.4N</text>
<text x="81.8" y="302.2" textLength="28.4" lengthAdjust="spacingAndGlyphs">42.6N</text>
<text x="81.8" y="240.4" textLength="28.4" lengthAdjust="spacingAndGlyphs">42.8N</text>
<text x="90.8" y="178.7" textLength="19.4" lengthAdjust="spacingAndGlyphs">43N</text>
<text x="81.8" y="117" textLength="28.4" lengthAdjust="spacingAndGlyphs">43.2N</text>
</g>
<g font-size="14.8px" fill="#000" stroke="#000" stroke-width="0.4">
<text x="47.2" y="19.5" textLength="36.9" lengthAdjust="spacingAndGlyphs">ICON</text>
<text x="94.2" y="19.5" textLength="19.5" lengthAdjust="spacingAndGlyphs">EU</text>
<text x="123.7" y="19.5" textLength="55.6" lengthAdjust="spacingAndGlyphs">0.0625</text>
<text x="189.4" y="19.5" textLength="54.3" lengthAdjust="spacingAndGlyphs">degree</text>
<text x="55" y="41.3" textLength="30.5" lengthAdjust="spacingAndGlyphs">MSL</text>
<text x="94.9" y="41.3" textLength="69.4" lengthAdjust="spacingAndGlyphs">Pressure</text>
<text x="174.1" y="41.3" textLength="44.2" lengthAdjust="spacingAndGlyphs">[hPa]</text>
<text x="479.1" y="19.7" textLength="102.1" lengthAdjust="spacingAndGlyphs">Initialisation:</text>
<text x="591.4" y="19.7" textLength="97.3" lengthAdjust="spacingAndGlyphs">2026.04.02.</text>
<text x="699.4" y="19.7" textLength="18.9" lengthAdjust="spacingAndGlyphs">12</text>
<text x="728" y="19.7" textLength="30.4" lengthAdjust="spacingAndGlyphs">UTC</text>
<text x="479.1" y="41.5" textLength="93.3" lengthAdjust="spacingAndGlyphs">Valid(+47):</text>
<text x="580.7" y="41.5" textLength="108" lengthAdjust="spacingAndGlyphs">2026.APR.04.</text>
<text x="700.1" y="41.5" textLength="16.3" lengthAdjust="spacingAndGlyphs">11</text>
<text x="728" y="41.5" textLength="30.4" lengthAdjust="spacingAndGlyphs">UTC</text>
</g>
<g font-size="10px" font-weight="bold" fill="#000">
<text x="4.2" y="614.9" textLength="64.5" lengthAdjust="spacingAndGlyphs">GrADS/COLA</text>
<text x="677" y="614.9" textLength="105" lengthAdjust="spacingAndGlyphs">2026-04-02-16:27</text>
</g>
</svg></body></html>
